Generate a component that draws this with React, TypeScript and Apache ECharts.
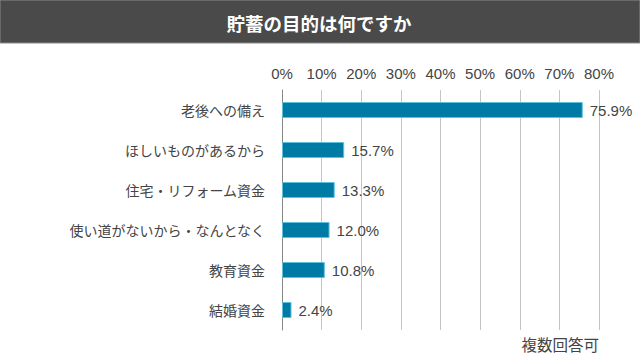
import React, { useEffect, useRef } from "react";
import * as echarts from "echarts";

const titleText = "貯蓄の目的は何ですか";
const categories = [
  "老後への備え",
  "ほしいものがあるから",
  "住宅・リフォーム資金",
  "使い道がないから・なんとなく",
  "教育資金",
  "結婚資金",
];
const values = [75.9, 15.7, 13.3, 12.0, 10.8, 2.4];
const axisMax = 80;
const axisInterval = 10;
const footnote = "複数回答可";

const JP = '"Noto Sans CJK JP", "Noto Sans", sans-serif';
const LAT = '"Liberation Sans", Arial, sans-serif';

export default function App() {
  const ref = useRef<HTMLDivElement>(null);
  useEffect(() => {
    if (!ref.current) return;
    const chart = echarts.init(ref.current, null, { renderer: "svg" });
    chart.setOption({
      animation: false,
      backgroundColor: "#ffffff",
      grid: { left: 282, right: 41, top: 90, bottom: 28, containLabel: false },
      xAxis: {
        type: "value",
        position: "top",
        min: 0,
        max: axisMax,
        interval: axisInterval,
        axisLine: { show: false },
        axisTick: { show: false },
        axisLabel: {
          formatter: "{value}%",
          color: "#444",
          fontSize: 15,
          fontFamily: LAT,
          margin: 9,
        },
        splitLine: { show: true, lineStyle: { color: "#c4c4c4", width: 1 } },
      },
      yAxis: {
        type: "category",
        data: categories,
        inverse: true,
        axisLine: { show: true, lineStyle: { color: "#888", width: 1 } },
        axisTick: { show: false },
        axisLabel: {
          color: "#444",
          fontSize: 14,
          fontFamily: JP,
          margin: 17,
        },
      },
      series: [
        {
          type: "bar",
          data: values,
          barWidth: 16,
          itemStyle: { color: "#007ba5", borderColor: "#5fbfdc", borderWidth: 1 },
          label: {
            show: true,
            position: "right",
            distance: 7,
            formatter: (p: any) => p.value.toFixed(1) + "%",
            color: "#444",
            fontSize: 15,
            fontFamily: LAT,
          },
        },
      ],
      graphic: [
        {
          type: "rect",
          shape: { x: 0, y: 0, width: 640, height: 43 },
          style: { fill: "#4a4a4a", stroke: "#8a8a8a", lineWidth: 1 },
          silent: true,
        },
        {
          type: "text",
          x: 319,
          y: 23,
          style: {
            text: titleText,
            fill: "#ffffff",
            font: `bold 18.5px ${JP}`,
            textAlign: "center",
            textVerticalAlign: "middle",
          },
        },
        {
          type: "text",
          x: 599,
          y: 344,
          style: {
            text: footnote,
            fill: "#444",
            font: `15.5px ${JP}`,
            textAlign: "right",
            textVerticalAlign: "middle",
          },
        },
      ],
    });
    return () => chart.dispose();
  }, []);
  return (
    <div
      ref={ref}
      style={{ position: "absolute", left: 0, top: 0, width: 640, height: 358 }}
    />
  );
}
